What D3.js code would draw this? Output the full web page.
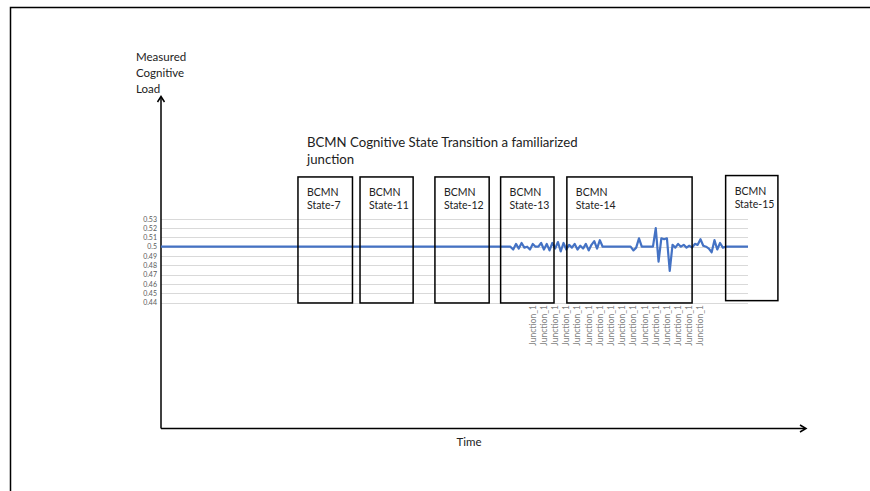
<!DOCTYPE html>
<html><head><meta charset="utf-8">
<style>
body{margin:0;background:#fff;}
text{font-family:Lato,'Open Sans',sans-serif;}
.grid line{stroke:#d9d9d9;stroke-width:1;shape-rendering:crispEdges;}
.grid path{display:none;}
.grid text{fill:#595959;font-size:7px;}
</style>
<script src="https://d3js.org/d3.v7.min.js"></script>
</head><body>
<svg id="chart" width="870" height="491"></svg>
<script>
// measured load over time index
var times=[0,125,126,127,128,129,130,131,132,133,134,135,136,137,138,139,140,141,142,143,144,145,146,147,148,149,150,151,152,153,154,155,156,157,158,
  168,169,170,171,172,176,177,178,179,180,181,182,183,184,185,186,187,188,189,190,191,192,193,194,195,196,197,198,199,200,201,202,210];
var load=[0.5,0.5,0.497,0.503,0.498,0.504,0.499,0.5,0.497,0.503,0.5,0.5,0.504,0.497,0.503,0.496,0.504,0.498,0.505,0.495,0.504,0.497,0.502,0.499,0.503,0.497,0.501,0.498,0.503,0.496,0.502,0.506,0.498,0.507,0.5,
  0.5,0.496,0.499,0.509,0.5,0.5,0.52,0.484,0.509,0.508,0.509,0.474,0.502,0.499,0.503,0.5,0.502,0.499,0.501,0.499,0.503,0.502,0.508,0.501,0.5,0.498,0.494,0.507,0.497,0.504,0.499,0.5,0.5];
var yTicks=[0.53,0.52,0.51,0.5,0.49,0.48,0.47,0.46,0.45,0.44];
var yTickLabels=['0.53','0.52','0.51','0.5','0.49','0.48','0.47','0.46','0.45','0.44'];
var junctionTimes=[133,137,141,145,149,153,157,161,165,169,173,177,181,185,189,193];
var junctionLabels=junctionTimes.map(function(){return 'Junction_1';});
var stateNames=['State-7','State-11','State-12','State-13','State-14','State-15'];
var stateStart=[49,71.2,98,121.5,145.2,202];
var stateEnd=[68.5,90.2,117.4,140.6,190,220.7];
var stateTop=[0.575,0.575,0.575,0.575,0.575,0.5765];
var stateBottom=[0.4395,0.4395,0.4395,0.4395,0.4395,0.442];

var x=d3.scaleLinear().domain([0,210]).range([161,748]);
var y=d3.scaleLinear().domain([0.44,0.53]).range([302.5,218.8]);
var svg=d3.select('#chart');

// outer frame
svg.append('path').attr('d','M10.5,491V7.5H870').attr('fill','none').attr('stroke','#000').attr('stroke-width',1.5);

// gridlines + tick labels
svg.append('g').attr('class','grid').attr('transform','translate(161,0)')
   .call(d3.axisLeft(y).tickValues(yTicks).tickSize(-(748-161)).tickPadding(4)
   .tickFormat(function(d,i){return yTickLabels[i];}));

// axes with arrows
var ax=svg.append('g').attr('stroke','#000').attr('fill','none').attr('stroke-width',1.5);
ax.append('line').attr('x1',161).attr('x2',161).attr('y1',97).attr('y2',428.5);
ax.append('path').attr('d','M157.5,102L161,96.5L164.5,102');
ax.append('line').attr('x1',161).attr('x2',805).attr('y1',428.5).attr('y2',428.5);
ax.append('path').attr('d','M800,425L806,428.5L800,432');

// series line
var line=d3.line().x(function(d){return x(d[0]);}).y(function(d){return y(d[1]);});
svg.append('path').datum(times.map(function(t,i){return [t,load[i]];}))
   .attr('d',line).attr('fill','none').attr('stroke','#4472c4').attr('stroke-width',2.2)
   .attr('stroke-linejoin','round');

// state boxes
var boxes=svg.append('g');
stateNames.forEach(function(s,i){
  var bx=x(stateStart[i]),bw=x(stateEnd[i])-bx,by=y(stateTop[i]),bh=y(stateBottom[i])-by;
  boxes.append('rect').attr('x',bx).attr('y',by).attr('width',bw).attr('height',bh)
       .attr('fill','none').attr('stroke','#000').attr('stroke-width',1.5);
  boxes.append('text').attr('x',bx+9).attr('y',by+19).attr('font-size',10.5).attr('fill','#222').text('BCMN');
  boxes.append('text').attr('x',bx+9).attr('y',by+32).attr('font-size',10.5).attr('fill','#222').text(s);
});

// junction labels
svg.append('g').selectAll('text').data(junctionTimes).join('text')
   .attr('transform',function(d){return 'translate('+x(d)+',305) rotate(-90)';})
   .attr('dy','0.35em').attr('text-anchor','end').attr('font-size',8.5).attr('fill','#7f7f7f')
   .text(function(d,i){return junctionLabels[i];});

// titles
var t=svg.append('text').attr('x',307).attr('font-size',13.2).attr('fill','#222');
t.append('tspan').attr('x',307).attr('y',147).text('BCMN Cognitive State Transition a familiarized');
t.append('tspan').attr('x',307).attr('y',164).text('junction');
var yl=svg.append('text').attr('font-size',11.5).attr('fill','#222');
['Measured','Cognitive','Load'].forEach(function(s,i){
  yl.append('tspan').attr('x',136).attr('y',61+i*16).text(s);});
svg.append('text').attr('x',469).attr('y',446).attr('text-anchor','middle')
   .attr('font-size',11.5).attr('fill','#222').text('Time');
</script>
</body></html>
